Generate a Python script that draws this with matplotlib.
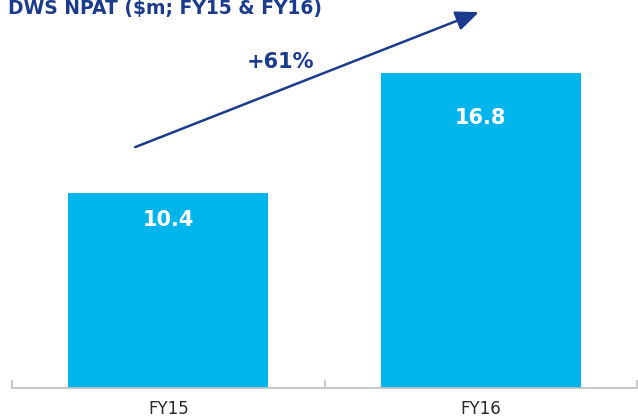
import matplotlib.pyplot as plt

categories = ['FY15', 'FY16']
npat = [10.4, 16.8]
labels = ['10.4', '16.8']
label_offsets = [1.45, 2.4]  # how far below the bar top each value sits
growth_label = '+61%'
title = 'DWS NPAT ($m; FY15 & FY16)'

navy = '#1b3c8c'
blue = '#00b5ec'

fig = plt.figure(figsize=(6.38, 4.19), dpi=100)
ax = fig.add_axes([12 / 638, 31 / 419, 625 / 638, 388 / 419])

x = range(len(categories))
ax.bar(x, npat, width=0.64, color=blue)
for i, v in enumerate(npat):
    ax.text(i, v - label_offsets[i], labels[i], ha='center', va='center',
            color='white', fontsize=15, fontweight='bold')

ax.set_xlim(-0.5, 1.5)
ax.set_ylim(0, 20.7)

# axis styling
for s in ['top', 'right', 'left']:
    ax.spines[s].set_visible(False)
ax.spines['bottom'].set_color('#bfbfbf')
ax.spines['bottom'].set_linewidth(1.2)
ax.set_yticks([])
ax.set_xticks([-0.5, 0.5, 1.5])
ax.set_xticklabels([])
ax.tick_params(axis='x', direction='in', length=6, color='#bfbfbf', width=1.2)
for i, c in enumerate(categories):
    ax.text(i, -0.62, c, ha='center', va='top', fontsize=12, color='#2a2a2a')

# growth arrow
ax.annotate('', xy=(0.994, 20.05), xytext=(-0.106, 12.85),
            arrowprops=dict(arrowstyle='-|>,head_length=1.4,head_width=0.6',
                            color=navy, lw=1.8,
                            mutation_scale=10, shrinkA=0, shrinkB=0))
ax.text(0.36, 17.4, growth_label, ha='center', va='center', color=navy,
        fontsize=15, fontweight='bold')

fig.text(8 / 638, 1 - 14 / 419, title, ha='left', va='baseline', color=navy,
         fontsize=13.5, fontweight='bold')

fig.savefig('out.png', dpi=100)
